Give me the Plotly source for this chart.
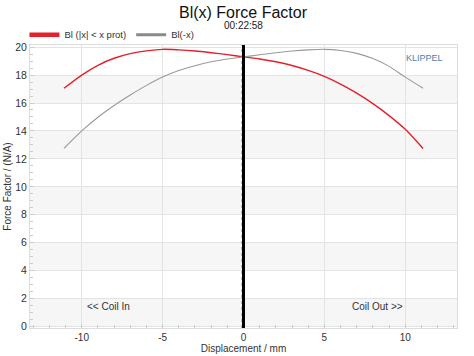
import plotly.graph_objects as go

x_mm = [-11.1, -10, -9, -8, -7, -6, -5, -4, -3, -2, -1, 0, 1, 2, 3, 4, 5, 6, 7, 8, 9, 10, 11.1]
bl_prot = [17.05, 18.0, 18.7, 19.2, 19.53, 19.73, 19.84, 19.8, 19.72, 19.6, 19.46, 19.3,
           19.15, 18.95, 18.68, 18.33, 17.9, 17.35, 16.7, 15.95, 15.1, 14.12, 12.75]
bl_neg = [12.75, 14.0, 14.98, 15.82, 16.57, 17.26, 17.86, 18.32, 18.67, 18.95, 19.15, 19.3,
          19.45, 19.6, 19.72, 19.8, 19.84, 19.76, 19.55, 19.18, 18.62, 17.85, 17.06]
band_starts = [0, 4, 8, 12, 16]
band_height = 2

FONT = "Liberation Sans, Arial, sans-serif"
RED = "#e3202b"
GRAY = "#9a9a9a"

fig = go.Figure()
fig.add_trace(go.Scatter(x=x_mm, y=bl_prot, mode="lines", showlegend=False,
                         line=dict(color=RED, width=1.4, shape="spline", smoothing=0.8)))
fig.add_trace(go.Scatter(x=x_mm, y=bl_neg, mode="lines", showlegend=False,
                         line=dict(color=GRAY, width=1.1, shape="spline", smoothing=0.8)))
# legend entries with thick swatches
fig.add_trace(go.Scatter(x=[None], y=[None], mode="lines", name="Bl (|x| < x prot)",
                         line=dict(color=RED, width=4.5)))
fig.add_trace(go.Scatter(x=[None], y=[None], mode="lines", name="Bl(-x)",
                         line=dict(color="#8a8a8a", width=3)))

shapes = []
for b in band_starts:
    shapes.append(dict(type="rect", xref="paper", yref="y", x0=0, x1=1, y0=b, y1=b + band_height,
                       fillcolor="#f6f6f6", line=dict(width=0), layer="below"))
shapes.append(dict(type="line", xref="x", yref="paper", x0=-0.1, x1=-0.1, y0=0, y1=1,
                   line=dict(color="#999999", width=1, dash="dot")))
shapes.append(dict(type="line", xref="x", yref="paper", x0=0, x1=0, y0=0, y1=1,
                   line=dict(color="#000000", width=3)))

fig.update_layout(
    width=474, height=356,
    margin=dict(l=30, r=17, t=45, b=28, autoexpand=False),
    paper_bgcolor="white", plot_bgcolor="white",
    font=dict(family=FONT, size=10, color="#333333"),
    shapes=shapes,
    showlegend=True,
    legend=dict(orientation="h", x=-0.013, y=0.985, xanchor="left", yanchor="bottom",
                font=dict(size=9.5, color="#333333"), bgcolor="rgba(0,0,0,0)",
                itemwidth=30, tracegroupgap=0),
    annotations=[
        dict(text="Bl(x) Force Factor", xref="paper", yref="paper", x=0.5, y=1, xanchor="center",
             yanchor="middle", yshift=33, showarrow=False, font=dict(size=16, color="#111111")),
        dict(text="00:22:58", xref="paper", yref="paper", x=0.5, y=1, xanchor="center",
             yanchor="middle", yshift=20, showarrow=False, font=dict(size=10, color="#222222")),
        dict(text="KLIPPEL", xref="paper", yref="paper", x=0.925, y=0.955, xanchor="center",
             yanchor="middle", showarrow=False, font=dict(size=9, color="#4a7fb5")),
        dict(text="<< Coil In", xref="x", yref="y", x=-8.36, y=1.45, xanchor="center",
             yanchor="middle", showarrow=False, font=dict(size=10, color="#333333")),
        dict(text="Coil Out >>", xref="x", yref="y", x=8.3, y=1.45, xanchor="center",
             yanchor="middle", showarrow=False, font=dict(size=10, color="#333333")),
    ],
)

fig.update_xaxes(range=[-13.2, 13.2], tickvals=[-10, -5, 0, 5, 10], ticktext=["-10", "-5", "0", "5", "10"],
                 showgrid=True, gridcolor="#e4e4e4", gridwidth=1, zeroline=False,
                 showline=True, linecolor="#dddddd", mirror=True,
                 ticks="inside", ticklen=4, tickcolor="#cccccc",
                 minor=dict(dtick=1, tick0=0, ticks="inside", ticklen=3, tickcolor="#cccccc", showgrid=False),
                 title=dict(text="Displacement / mm", font=dict(size=10), standoff=1),
                 tickfont=dict(size=10), automargin=False)
fig.update_yaxes(range=[-0.1, 20.15], tickvals=[0, 2, 4, 6, 8, 10, 12, 14, 16, 18, 20],
                 showgrid=True, gridcolor="#e4e4e4", gridwidth=1, zeroline=False,
                 showline=True, linecolor="#dddddd", mirror=True,
                 ticks="inside", ticklen=4, tickcolor="#cccccc",
                 minor=dict(dtick=0.5, tick0=0, ticks="inside", ticklen=3, tickcolor="#cccccc", showgrid=False),
                 title=dict(text="Force Factor / (N/A)", font=dict(size=10), standoff=1),
                 tickfont=dict(size=10.5), automargin=False)

fig.write_html("out.html", config={"displayModeBar": False},
               post_script="document.body.style.margin='0';document.body.style.padding='0';")
